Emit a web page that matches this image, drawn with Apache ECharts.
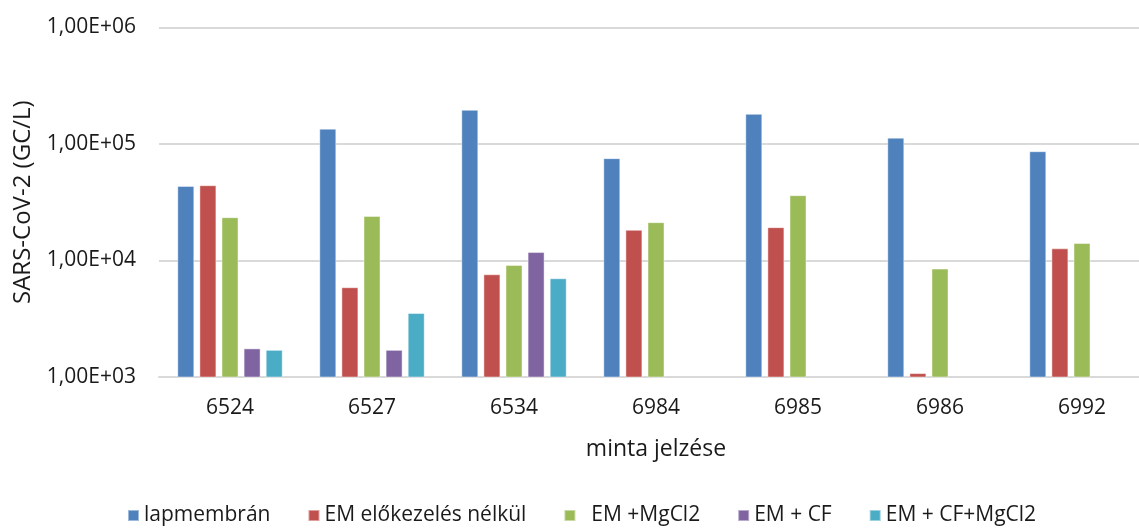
<!DOCTYPE html>
<html>
<head>
<meta charset="utf-8">
<script src="https://cdn.jsdelivr.net/npm/echarts@6/dist/echarts.min.js"></script>
<style>
  html, body { margin: 0; padding: 0; background: #ffffff; overflow: hidden; }
  /* the plot area runs a little past the right edge of the window */
  #chart { width: 1153px; height: 529px; }
</style>
</head>
<body>
<div id="chart"></div>
<script>
// Sample identifiers (x axis)
const samples = ['6524', '6527', '6534', '6984', '6985', '6986', '6992'];

// SARS-CoV-2 concentration per method (GC/L); null = not measured
const lapmembran   = [43600, 135000, 196000, 75400, 181000, 113000, 86500];
const emNoPretreat = [44200, 5890, 7610, 18300, 19300, 1080, 12700];
const emMgCl2      = [23500, 24100, 9150, 21300, 36300, 8510, 14100];
const emCF         = [1760, 1710, 11800, null, null, null, null];
const emCFMgCl2    = [1710, 3540, 7030, null, null, null, null];

const seriesNames = ['lapmembrán', 'EM előkezelés nélkül', 'EM +MgCl2', 'EM + CF', 'EM + CF+MgCl2'];
const seriesData = [lapmembran, emNoPretreat, emMgCl2, emCF, emCFMgCl2];
const seriesColors = ['#4F81BD', '#C0504D', '#9BBB59', '#8064A2', '#4BACC6'];

// Log-axis tick labels, indexed by exponent
const yTickLabels = { 3: '1,00E+03', 4: '1,00E+04', 5: '1,00E+05', 6: '1,00E+06' };

const FONT = '"Open Sans", "Noto Sans", sans-serif';
const TEXT = '#1a1a1a';

const chart = echarts.init(document.getElementById('chart'), null, { renderer: 'canvas' });

chart.setOption({
  animation: false,
  backgroundColor: '#ffffff',
  textStyle: { fontFamily: FONT },
  grid: { left: 159, right: 0, top: 27.3, bottom: 152, containLabel: false },
  legend: {
    data: seriesNames,
    top: 505,
    left: 127,
    padding: 0,
    icon: 'rect',
    itemWidth: 11,
    itemHeight: 11,
    itemGap: 37,
    formatter: function (name) { return name === 'EM +MgCl2' ? '  ' + name : name; },
    textStyle: { fontFamily: FONT, fontSize: 21, color: TEXT }
  },
  xAxis: {
    type: 'category',
    data: samples,
    name: 'minta jelzése',
    nameLocation: 'middle',
    nameGap: 61,
    nameTextStyle: { fontFamily: FONT, fontSize: 23, color: TEXT },
    axisLine: { show: true, lineStyle: { color: '#d9d9d9', width: 2 } },
    axisTick: { show: false },
    axisLabel: { margin: 21, fontFamily: FONT, fontSize: 21, color: TEXT },
    splitLine: { show: false }
  },
  yAxis: {
    type: 'log',
    logBase: 10,
    min: 1000,
    max: 1000000,
    name: 'SARS-CoV-2 (GC/L)',
    nameLocation: 'middle',
    nameRotate: 90,
    nameGap: 124,
    nameTextStyle: { fontFamily: FONT, fontSize: 24, color: TEXT },
    axisLine: { show: false },
    axisTick: { show: false },
    axisLabel: {
      margin: 23,
      fontFamily: FONT,
      fontSize: 21,
      color: TEXT,
      formatter: function (v) { return yTickLabels[Math.round(Math.log10(v))] || ''; }
    },
    splitLine: { show: true, lineStyle: { color: '#d9d9d9', width: 2 } }
  },
  series: seriesNames.map(function (name, i) {
    return {
      name: name,
      type: 'bar',
      data: seriesData[i],
      barWidth: 17,
      barGap: '30%',
      itemStyle: {
        color: seriesColors[i],
        borderColor: 'rgba(255,255,255,0.45)',
        borderWidth: 1
      }
    };
  })
});
</script>
</body>
</html>
